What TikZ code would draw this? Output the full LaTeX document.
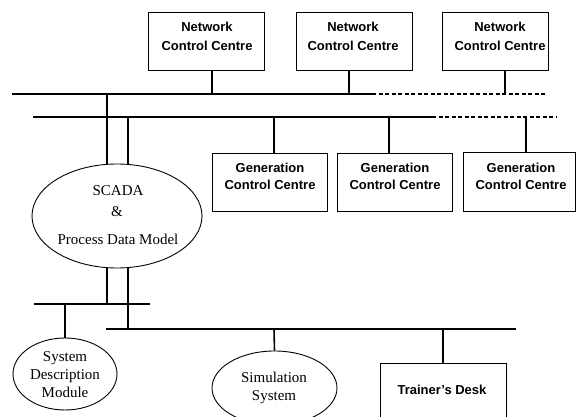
\documentclass[tikz,border=0pt]{standalone}
\usepackage{fontspec}
\setmainfont{Liberation Serif}
\newfontfamily\sansb{Liberation Sans}
\usetikzlibrary{shapes.geometric}
\begin{document}
\begin{tikzpicture}[x=1pt,y=-1pt,
  bus/.style={line width=1.8pt},
  dbus/.style={line width=1.5pt, dash pattern=on 4pt off 2.5pt},
  stem/.style={line width=1.6pt},
  box/.style={draw, line width=0.7pt, rectangle, inner sep=0pt},
  oval/.style={draw, line width=0.9pt, ellipse, inner sep=0pt},
  btext/.style={font=\sansb\bfseries\fontsize{13}{19}\selectfont, align=center, inner sep=0pt},
  gtext/.style={font=\sansb\bfseries\fontsize{13}{17}\selectfont, align=center, inner sep=0pt},
  stext/.style={font=\fontsize{15}{18}\selectfont, align=center, inner sep=0pt}]
\useasboundingbox (0,0) rectangle (576,417);
\clip (0,0) rectangle (576,417);

% buses
\coordinate (b1w) at (12,94);  \coordinate (b1m) at (372,94);  \coordinate (b1e) at (545,94);
\coordinate (b2w) at (33,117); \coordinate (b2m) at (432,117); \coordinate (b2e) at (557,117);
\coordinate (b3w) at (34,304); \coordinate (b3e) at (150,304);
\coordinate (b4w) at (106,329); \coordinate (b4e) at (516,329);
\draw[bus] (b1w) -- (b1m);
\draw[dbus] (b1m) -- (b1e);
\draw[bus] (b2w) -- (b2m);
\draw[dbus] (b2m) -- (b2e);
\draw[bus] (b3w) -- (b3e);
\draw[bus] (b4w) -- (b4e);

% network control centres
\node[box, minimum width=116pt, minimum height=58pt] (ncc1) at (206,41) {};
\node[box, minimum width=116pt, minimum height=58pt] (ncc2) at (354,41) {};
\node[box, minimum width=106pt, minimum height=58pt] (ncc3) at (495,41) {};
\node[btext] (ncc1t) at (207,36) {Network\\Control Centre};
\node[btext] (ncc2t) at (353,36) {Network\\Control Centre};
\node[btext] (ncc3t) at (500,36) {Network\\Control Centre};
\coordinate (t1) at (212,94); \coordinate (t2) at (349,94); \coordinate (t3) at (505,94);
\draw[stem] (ncc1.south -| t1) -- (t1);
\draw[stem] (ncc2.south -| t2) -- (t2);
\draw[stem] (ncc3.south -| t3) -- (t3);

% generation control centres
\node[box, minimum width=115pt, minimum height=58pt] (gcc1) at (269.5,182) {};
\node[box, minimum width=115pt, minimum height=58pt] (gcc2) at (394.5,182) {};
\node[box, minimum width=112.5pt, minimum height=59pt] (gcc3) at (519.25,181.5) {};
\node[gtext] (gcc1t) at (270,176) {Generation\\Control Centre};
\node[gtext] (gcc2t) at (395,176) {Generation\\Control Centre};
\node[gtext] (gcc3t) at (521,176) {Generation\\Control Centre};
\coordinate (g1) at (274,117); \coordinate (g2) at (389,117); \coordinate (g3) at (526,117);
\draw[stem] (g1) -- (g1 |- gcc1.north);
\draw[stem] (g2) -- (g2 |- gcc2.north);
\draw[stem] (g3) -- (g3 |- gcc3.north);

% SCADA
\node[oval, minimum width=170pt, minimum height=104pt] (scada) at (117,216) {};
\node[stext] (scadat1) at (118,191) {SCADA};
\node[stext] (scadat2) at (117,212) {\&};
\node[stext] (scadat3) at (118,239) {Process Data Model};
\coordinate (s1) at (107,94); \coordinate (s2) at (128,117);
\draw[stem] (s1) -- (s1 |- scada.north);
\draw[stem] (s2) -- (s2 |- scada.north);
\coordinate (s3) at (107,304); \coordinate (s4) at (128,329);
\draw[stem] (s3 |- scada.south) -- (s3);
\draw[stem] (s4 |- scada.south) -- (s4);

% system description module
\node[oval, minimum width=104pt, minimum height=72pt] (sdm) at (65,374) {};
\node[stext] (sdmt) at (65,375) {System\\Description\\Module};
\coordinate (d1) at (65,304);
\draw[stem] (d1) -- (sdm.north);

% simulation system
\node[oval, minimum width=125pt, minimum height=74pt] (sim) at (274.5,388) {};
\node[stext] (simt) at (274,388) {Simulation\\System};
\coordinate (m1) at (274,329);
\draw[stem] (m1) -- (sim.north);

% trainer's desk
\node[box, minimum width=126pt, minimum height=80pt] (td) at (443,403) {};
\node[btext] (tdt) at (442,390) {Trainer’s Desk};
\coordinate (r1) at (443,329);
\draw[stem] (r1) -- (r1 |- td.north);
\end{tikzpicture}
\end{document}
